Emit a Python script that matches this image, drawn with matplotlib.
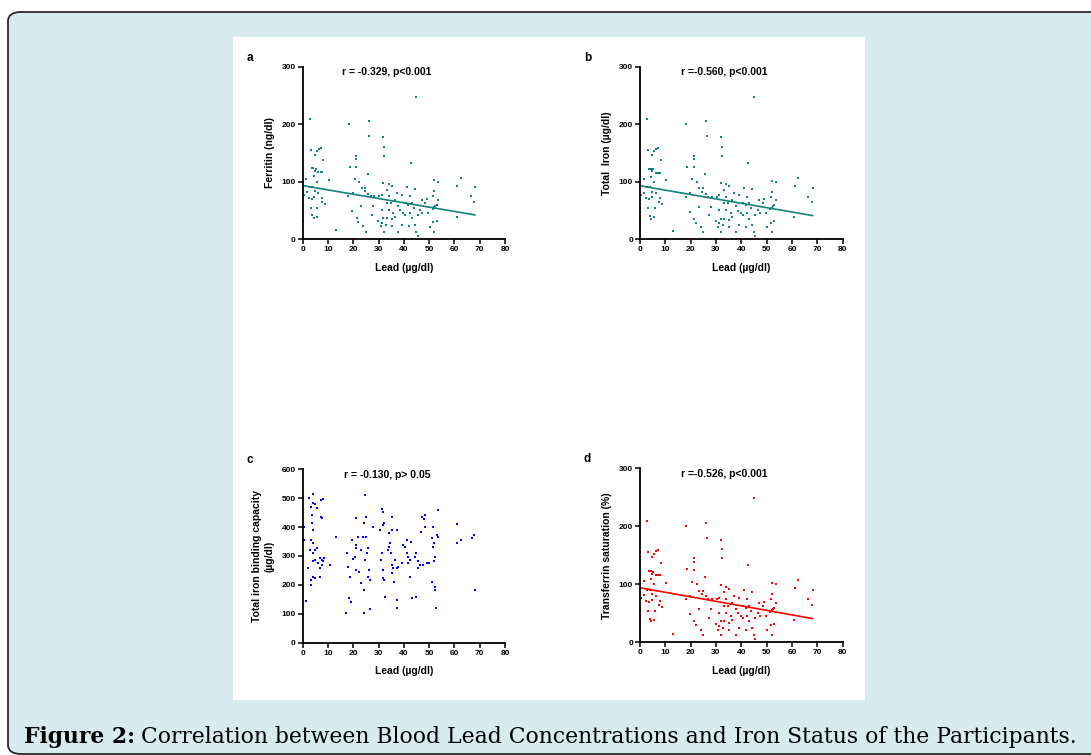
import numpy as np
import matplotlib
matplotlib.use("Agg")
import matplotlib.pyplot as plt
from matplotlib.patches import FancyBboxPatch, Rectangle

# blood lead (ug/dl) and iron values (b and d show the same cloud)
lead = [45, 2.9, 18.3, 26.2, 26.3, 31.9, 32.3, 32.3, 42.7, 3.3, 4.9, 5.5, 6.4, 7.2, 8.2,
        21.2, 21.2, 18.6, 21.2, 25.7, 3.6, 4.2, 5.1, 4.9, 6.2, 7.2, 7.8, 4.5, 1.4, 5.5,
        10.4, 20.7, 22.3, 24.8, 31.9, 34.1, 41.1, 44.4, 51.9, 53.6, 61.2, 62.5, 68.1, 66.5,
        67.9, 60.9, 0.5, 1.6, 2.9, 3.8, 4.9, 6.2, 2.5, 3.6, 4.6, 7.8, 7.5, 8.8, 3.3, 3.8,
        4.5, 5.5, 5.8, 0, 0, 13.2, 19.9, 18.1, 23.3, 24.6, 25.9, 27.0, 23.1, 19.6, 21.4,
        22.0, 24.0, 25.0, 27.3, 27.9, 30.2, 31.2, 31.9, 31.2, 30.8, 32.1, 32.8, 34.1, 34.9,
        35.8, 36.5, 37.2, 37.8, 38.5, 37.8, 39.1, 39.8, 40.7, 41.8, 42.4, 43.1, 42.0, 44.4,
        45.0, 45.5, 45.5, 46.4, 47.3, 48.4, 47.0, 49.0, 50.3, 51.7, 51.9, 52.1, 51.7, 53.0,
        53.6, 52.1, 53.0, 28.3, 33.2, 35.2, 39.1, 42.4, 43.1, 31.2, 33.2, 34.0, 29.9, 35.2,
        36.5, 40.5, 44.0, 49.7, 35.2, 33.2, 52.0, 51.5, 52.5]
ferritin = [248, 209, 200, 205, 180, 177, 161, 145, 133, 155, 147, 153, 157, 159, 137,
            145, 139, 126, 125, 113, 123, 123, 122, 118, 116, 116, 116, 109, 105, 100,
            103, 104, 100, 89, 98, 96, 90, 87, 102, 100, 93, 107, 90, 74,
            64, 39, 77, 81, 91, 91, 83, 80, 71, 70, 73, 71, 65, 61, 54, 41,
            36, 39, 54, 54, 31, 15, 80, 74, 89, 83, 79, 74, 57, 48, 36,
            29, 22, 12, 42, 57, 74, 51, 36, 28, 22, 12, 25, 74, 63,
            45, 68, 80, 58, 50, 13, 25, 45, 63, 60, 46, 36, 22, 25,
            13, 5, 42, 51, 45, 63, 68, 70, 21, 29, 13, 54, 74, 60,
            68, 83, 31, 74, 86, 92, 77, 74, 63, 77, 63, 51, 31, 34,
            39, 42, 54, 45, 22, 36, 55, 52, 58]
total_iron = ferritin
tsat = ferritin

# panel c: total iron binding capacity
lead_c = [0.5, 0.7, 1.3, 2.0, 2.5, 3.3, 3.6, 3.9, 4.2, 4.9, 5.5, 3.6, 4.2, 3.3, 4.2,
          2.9, 3.9, 4.9, 5.5, 4.9, 6.0, 4.2, 6.9, 7.6, 6.9, 7.8, 3.3, 4.2, 4.9, 6.9,
          3.3, 7.2, 8.2, 7.2, 7.8, 8.2, 8.6, 10.8, 13.2, 17.0, 18.3, 19.1, 18.7, 17.4,
          18.1, 19.4, 20.0, 20.7, 20.9, 21.2, 21.2, 21.2, 21.8, 22.1, 22.9, 23.1, 23.7,
          24.1, 24.1, 24.3, 24.6, 24.9, 24.9, 25.3, 25.7, 25.9, 26.2, 26.8, 26.8, 27.7,
          24.6, 30.6, 31.2, 31.9, 31.6, 32.3, 31.2, 30.9, 31.9, 31.6, 32.3, 32.6, 33.6,
          34.2, 34.5, 34.2, 35.2, 35.4, 34.8, 35.2, 35.8, 36.0, 35.4, 36.5, 37.2, 37.3,
          37.2, 37.3, 37.8, 39.1, 39.8, 40.5, 41.1, 41.1, 41.5, 41.8, 42.4, 42.4, 42.8,
          43.4, 44.4, 45.0, 45.0, 45.5, 45.7, 46.4, 46.8, 47.3, 47.7, 48.1, 48.4, 48.4,
          49.0, 49.9, 51.0, 51.2, 51.7, 51.7, 52.1, 52.1, 52.3, 52.3, 52.6, 52.3, 53.4,
          53.6, 53.0, 60.9, 61.2, 62.5, 66.8, 67.9, 68.2]
tibc = [402, 355, 145, 257, 500, 471, 442, 513, 484, 480, 465, 413, 390, 355, 344,
        321, 309, 321, 327, 286, 275, 281, 292, 286, 257, 269, 217, 228, 223, 228,
        200, 494, 496, 436, 433, 281, 292, 269, 365, 104, 153, 142, 228, 309,
        263, 355, 288, 298, 338, 327, 430, 252, 367, 245, 205, 321, 367,
        182, 102, 413, 511, 436, 367, 309, 327, 228, 252, 217, 115, 402,
        286, 390, 461, 453, 407, 415, 309, 286, 223, 252, 217, 159, 321,
        332, 344, 378, 390, 436, 309, 269, 257, 211, 240, 286, 390, 257,
        148, 119, 263, 275, 338, 332, 355, 309, 298, 275, 286, 228, 349,
        153, 298, 159, 309, 257, 281, 269, 384, 436, 269, 427, 442, 402,
        275, 275, 211, 361, 399, 332, 344, 281, 194, 182, 119, 298, 459,
        367, 373, 411, 346, 355, 361, 373, 182]

# fitted regression lines (intercept, slope) as drawn
fit_a = (93, -0.75)
fit_b = (93, -0.76)
fit_d = (94, -0.78)

teal = "#11827e"
W, H = 1091, 755
fig = plt.figure(figsize=(W / 100, H / 100), dpi=100)
fig.patch.set_facecolor("white")

def fx(px):
    return px / W

def fy(py):
    return 1 - py / H

# light blue card with rounded border, white panel behind the plots
fig.patches.append(FancyBboxPatch((fx(8), fy(754)), fx(1110) - fx(8), fy(12) - fy(754),
                                  boxstyle="round,pad=0,rounding_size=0.012",
                                  transform=fig.transFigure, facecolor="#d7ebf1",
                                  edgecolor="#2a2a2a", linewidth=1.3, zorder=-3))
fig.patches.append(Rectangle((fx(233), fy(700)), fx(865) - fx(233), fy(37) - fy(700),
                             transform=fig.transFigure, facecolor="white",
                             edgecolor="none", zorder=-2))

tfont = "Liberation Sans"

def panel(box, xs, ys, color, ymax, ylabel, letter, note, fit=None):
    l, r, t, b = box
    ax = fig.add_axes([fx(l), fy(b), fx(r) - fx(l), fy(t) - fy(b)])
    ax.set_zorder(2)
    ax.set_facecolor("none")
    ax.plot(xs, ys, linestyle="none", marker="s", markersize=1.7, color=color,
            markeredgewidth=0, clip_on=False)
    if fit is not None:
        xx = np.array([0, max(xs)])
        ax.plot(xx, fit[0] + fit[1] * xx, color=color, linewidth=1.2)
    ax.set_xlim(0, 80)
    ax.set_ylim(0, ymax)
    ax.set_xticks(np.arange(0, 81, 10))
    ax.set_yticks(np.arange(0, ymax + 1, 100))
    for s in ["top", "right"]:
        ax.spines[s].set_visible(False)
    for s in ["left", "bottom"]:
        ax.spines[s].set_linewidth(1.3)
    ax.tick_params(direction="out", length=3.5, width=1.1, pad=1.5, labelsize=6)
    for lab in ax.get_xticklabels() + ax.get_yticklabels():
        lab.set_fontweight("bold")
        lab.set_family(tfont)
    ax.set_xlabel("Lead (\u00b5g/dl)", fontsize=7.5, fontweight="bold", family=tfont,
                  labelpad=7)
    ax.set_ylabel(ylabel, fontsize=7.5, fontweight="bold", family=tfont, labelpad=5,
                  linespacing=1.3)
    ax.text(33.3, ymax * 0.97, note, ha="center", va="center", fontsize=7.5,
            fontweight="bold", family=tfont)
    fig.text(fx(box[0] - 56), fy(box[2] - 9), letter, ha="left", va="center",
             fontsize=8.5, fontweight="bold", family=tfont)
    return ax

panel((302.7, 505, 66.7, 239), lead, ferritin, teal, 300, "Ferritin (ng/dl)", "a",
      "r = -0.329, p<0.001", fit_a)
panel((640, 842.7, 66.7, 239.3), lead, total_iron, teal, 300, "Total  Iron (\u00b5g/dl)", "b",
      "r =-0.560, p<0.001", fit_b)
panel((302.7, 505, 469.3, 642.7), lead_c, tibc, "#0000ff", 600,
      "Total iron binding capacity\n(\u00b5g/dl)", "c", "r = -0.130, p> 0.05")
panel((640, 842.7, 468.3, 642.3), lead, tsat, "#ff0000", 300, "Transferrin saturation (%)",
      "d", "r =-0.526, p<0.001", fit_d)

# caption, size fitted so it runs from x=24 to about x=1083
r = fig.canvas.get_renderer()
cap_font = "DejaVu Serif"
cap_rest = "Correlation between Blood Lead Concentrations and Iron Status of the Participants."
cap_size = 15.0
t1 = fig.text(fx(24), fy(743), "Figure 2:", fontsize=cap_size, fontweight="bold",
              family=cap_font, ha="left", va="baseline")
t2 = fig.text(0, fy(743), cap_rest, fontsize=cap_size, family=cap_font,
              ha="left", va="baseline")
w = t1.get_window_extent(renderer=r).width + 6 + t2.get_window_extent(renderer=r).width
cap_size = cap_size * (1083 - 24) / w
t1.set_fontsize(cap_size)
t2.set_fontsize(cap_size)
ext = t1.get_window_extent(renderer=r)
t2.set_x((ext.x1 + 6) / W)

fig.savefig("out.png", dpi=100)
